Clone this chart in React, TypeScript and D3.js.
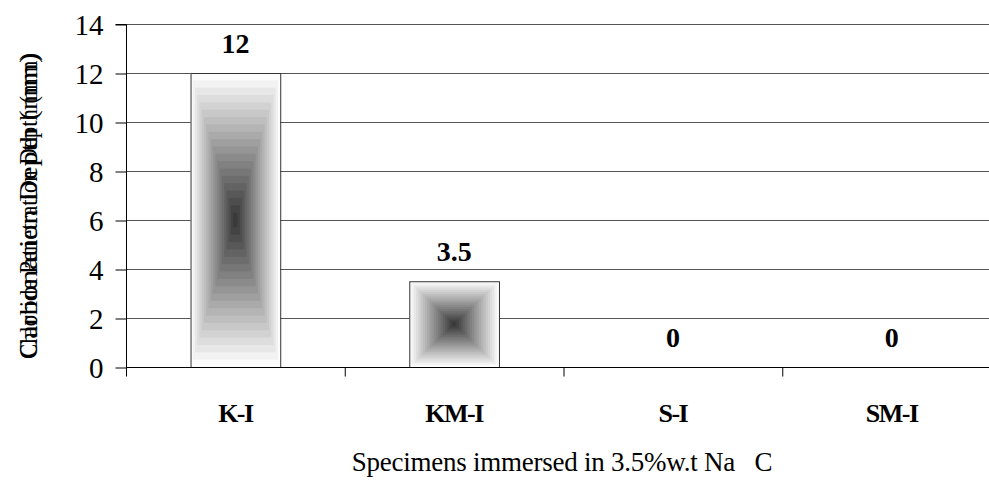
import React, { useEffect, useRef } from "react";
import * as d3 from "d3";

const categories = ["K-I", "KM-I", "S-I", "SM-I"];
const depths = [12, 3.5, 0, 0];
const yTicks = [0, 2, 4, 6, 8, 10, 12, 14];
const yTitles = ["Carbonation Depth (mm)", "Chloride Penetration Depth (mm)"];
const xTitle = "Specimens immersed in 3.5%w.t Na\u00a0\u00a0\u00a0C";

const W = 989;
const H = 487;
const FONT = "'Liberation Serif', 'Times New Roman', serif";

const App = () => {
  const ref = useRef<SVGSVGElement>(null);

  useEffect(() => {
    const svg = d3.select(ref.current);
    svg.selectAll("*").remove();

    const x = d3.scaleBand().domain(categories).range([126, 1001]).paddingInner(0.59).paddingOuter(0.295);
    const y = d3.scaleLinear().domain([0, 14]).range([367, 24]);
    const band = x.step();

    // gridlines
    svg
      .append("g")
      .selectAll("line")
      .data(yTicks.filter((t) => t > 0))
      .join("line")
      .attr("x1", 126)
      .attr("x2", W)
      .attr("y1", (d) => y(d) + 0.5)
      .attr("y2", (d) => y(d) + 0.5)
      .attr("stroke", "#555")
      .attr("stroke-width", 1);

    // bars with stepped rectangular shading
    const steps = 20;
    const shade = d3
      .scaleLinear<string>()
      .domain([0, steps * 0.25, steps - 1])
      .range(["#fcfcfc", "#c8c8c8", "#3a3a3a"]);
    categories.forEach((c, i) => {
      const v = depths[i];
      if (v <= 0) return;
      const x0 = x(c)!;
      const bw = x.bandwidth();
      const top = y(v);
      const bh = y(0) - top;
      const g = svg.append("g");
      d3.range(steps).forEach((s) => {
        const f = (s / steps) * 0.5;
        g.append("rect")
          .attr("x", x0 + bw * f)
          .attr("y", top + bh * f)
          .attr("width", bw * (1 - 2 * f))
          .attr("height", bh * (1 - 2 * f))
          .attr("fill", shade(s));
      });
      g.append("rect")
        .attr("x", x0 + 0.5)
        .attr("y", top + 0.5)
        .attr("width", bw)
        .attr("height", bh)
        .attr("fill", "none")
        .attr("stroke", "#333")
        .attr("stroke-width", 1);
    });

    // axes
    const yAxis = svg
      .append("g")
      .attr("transform", "translate(126.5,0.5)")
      .call(d3.axisLeft(y).tickValues(yTicks).tickSize(11).tickFormat(d3.format("d")));
    yAxis.select(".domain").attr("d", `M0,${y(14)}H-11M0,${y(14)}V${y(0)}`);
    yAxis
      .selectAll("text")
      .attr("font-family", FONT)
      .attr("font-size", 29)
      .attr("fill", "#000")
      .attr("x", -23)
      .attr("dy", "0.34em");
    yAxis.selectAll("line, path").attr("stroke", "#000");

    const xAxisG = svg.append("g").attr("transform", `translate(0,${y(0) + 0.5})`);
    xAxisG.append("line").attr("x1", 126).attr("x2", W).attr("stroke", "#000");
    xAxisG
      .selectAll("line.tick")
      .data(d3.range(categories.length + 1))
      .join("line")
      .attr("class", "tick")
      .attr("x1", (d) => 126.5 + d * band)
      .attr("x2", (d) => 126.5 + d * band)
      .attr("y1", 0)
      .attr("y2", 9)
      .attr("stroke", "#000");

    svg
      .append("g")
      .selectAll("text")
      .data(categories)
      .join("text")
      .attr("x", (d) => x(d)! + x.bandwidth() / 2)
      .attr("y", 422)
      .attr("text-anchor", "middle")
      .attr("font-family", FONT)
      .attr("font-size", 26)
      .attr("font-weight", "bold")
      .attr("letter-spacing", -1.5)
      .text((d) => d);

    // value labels
    svg
      .append("g")
      .selectAll("text")
      .data(categories)
      .join("text")
      .attr("x", (d) => x(d)! + x.bandwidth() / 2)
      .attr("y", (d, i) => y(depths[i]) - 20)
      .attr("text-anchor", "middle")
      .attr("font-family", FONT)
      .attr("font-size", 28)
      .attr("font-weight", "bold")
      .text((d, i) => String(depths[i]));

    // titles
    svg
      .append("text")
      .attr("x", 562)
      .attr("y", 471)
      .attr("text-anchor", "middle")
      .attr("font-family", FONT)
      .attr("font-size", 27)
      .attr("letter-spacing", -0.25)
      .text(xTitle);

    svg
      .append("g")
      .selectAll("text")
      .data(yTitles)
      .join("text")
      .attr("transform", "translate(37,206) rotate(-90)")
      .attr("text-anchor", "middle")
      .attr("font-family", FONT)
      .attr("font-size", 26)
      .attr("textLength", 306)
      .attr("lengthAdjust", "spacingAndGlyphs")
      .text((d) => d);
  }, []);

  return (
    <svg
      ref={ref}
      width={W}
      height={H}
      style={{ position: "absolute", left: 0, top: 0, background: "#fff" }}
    />
  );
};

export default App;
